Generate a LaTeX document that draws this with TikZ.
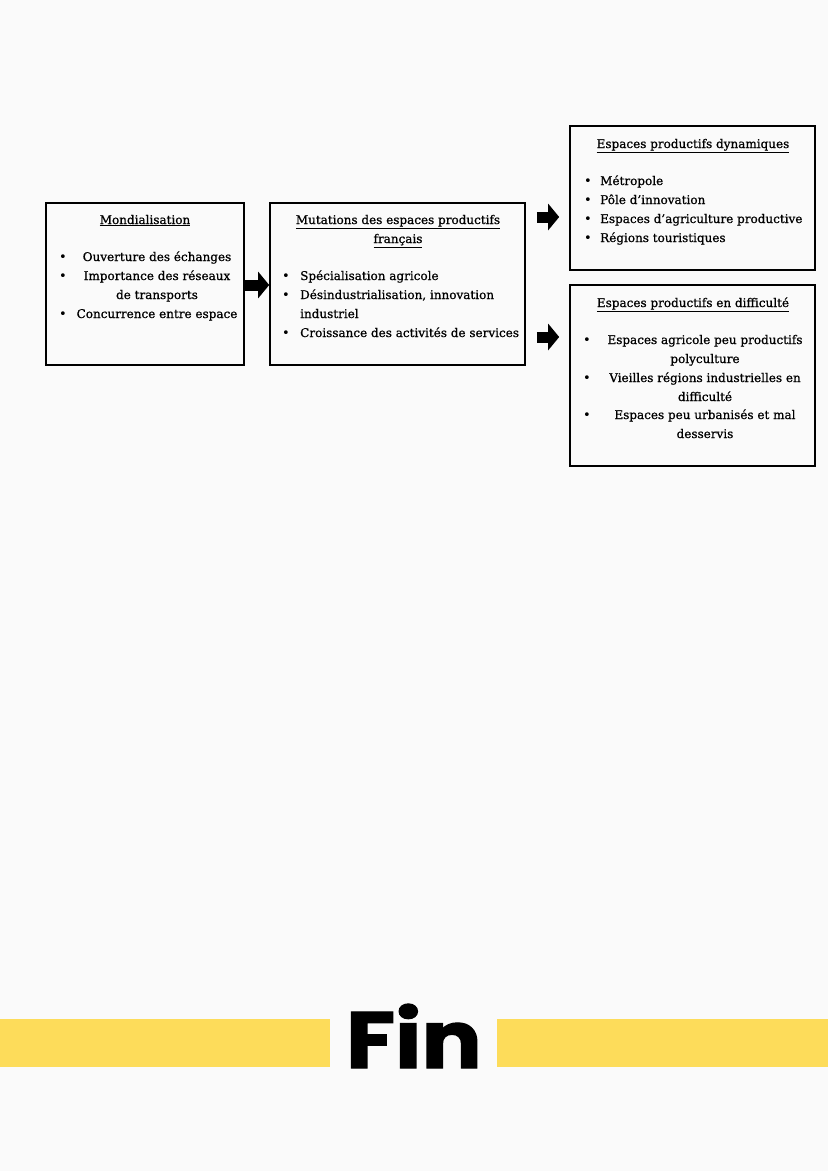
\documentclass[tikz,border=0pt]{standalone}
\usepackage{fontspec}
\setmainfont{DejaVu Serif}[FakeBold=0.8]
\newfontfamily\finfont{Poppins}[FakeBold=1.5]
\newfontfamily\bulfont{DejaVu Sans}
\usetikzlibrary{arrows.meta}
\definecolor{bg}{HTML}{FAFAFA}
\definecolor{bar}{HTML}{FDDC5A}
\tikzset{
  box/.style={draw=black, line width=1.6pt, fill=none, inner sep=0pt},
  txt/.style={inner sep=0pt, anchor=base, font=\fontsize{12pt}{13pt}\selectfont, text=black},
  txtl/.style={txt, anchor=base west},
  ttl/.style={txt},
  bul/.style={inner sep=0pt, anchor=base, font=\bulfont\fontsize{13pt}{13pt}\selectfont},
  blockarrow/.style={line width=11pt, -{Triangle[length=11pt,width=26pt]}},
}
\begin{document}
\begin{tikzpicture}[x=1pt,y=-1pt]
\fill[bg] (0,0) rectangle (828,1171);
\useasboundingbox (0,0) rectangle (828,1171);

% boxes
\node[box, minimum width=198pt, minimum height=162pt] (mond) at (145,284) {};
\node[box, minimum width=255pt, minimum height=162pt] (mut) at (397.5,284) {};
\node[box, minimum width=245pt, minimum height=144pt] (dyn) at (692.5,198) {};
\node[box, minimum width=245pt, minimum height=181pt] (dif) at (692.5,375.5) {};

% Mondialisation
\node[ttl] (t1) at (145,224) {\underline{Mondialisation}};
\node[bul] (b11) at (63,261) {•};
\node[bul] (b12) at (63,280) {•};
\node[bul] (b13) at (63,318) {•};
\node[txt] (m1) at (157,261) {Ouverture des échanges};
\node[txt] (m2) at (157,280) {Importance des réseaux};
\node[txt] (m3) at (157,299) {de transports};
\node[txt] (m4) at (157,318) {Concurrence entre espace};

% Mutations
\node[ttl] (t2a) at (398,224) {\underline{Mutations des espaces productifs}};
\node[ttl] (t2b) at (398,243) {\underline{français}};
\node[bul] (b21) at (286,280) {•};
\node[bul] (b22) at (286,299) {•};
\node[bul] (b23) at (286,337) {•};
\node[txtl] (u1) at (300,280) {Spécialisation agricole};
\node[txtl] (u2) at (300,299) {Désindustrialisation, innovation};
\node[txtl] (u3) at (300,318) {industriel};
\node[txtl] (u4) at (300,337) {Croissance des activités de services};

% Dynamiques
\node[ttl] (t3) at (693,148) {\underline{Espaces productifs dynamiques}};
\node[bul] (b31) at (588,185) {•};
\node[bul] (b32) at (588,204) {•};
\node[bul] (b33) at (588,223) {•};
\node[bul] (b34) at (588,242) {•};
\node[txtl] (d1) at (600,185) {Métropole};
\node[txtl] (d2) at (600,204) {Pôle d’innovation};
\node[txtl] (d3) at (600,223) {Espaces d’agriculture productive};
\node[txtl] (d4) at (600,242) {Régions touristiques};

% Difficulte
\node[ttl] (t4) at (693,307) {\underline{Espaces productifs en difficulté}};
\node[bul] (b41) at (587,344) {•};
\node[bul] (b42) at (587,382) {•};
\node[bul] (b43) at (587,419) {•};
\node[txt] (f1) at (705,344) {Espaces agricole peu productifs};
\node[txt] (f2) at (705,363) {polyculture};
\node[txt] (f3) at (705,382) {Vieilles régions industrielles en};
\node[txt] (f4) at (705,401) {difficulté};
\node[txt] (f5) at (705,419) {Espaces peu urbanisés et mal};
\node[txt] (f6) at (705,438) {desservis};

% arrows
\draw[blockarrow] (mond.east |- 0,285) -- (mut.west |- 0,285);
\draw[blockarrow, shorten <=11pt, shorten >=10pt] (mut.east |- 0,217) -- (dyn.west |- 0,217);
\draw[blockarrow, shorten <=11pt, shorten >=10pt] (mut.east |- 0,337) -- (dif.west |- 0,337);

% Fin
\fill[bar] (0,1019) rectangle (330,1067);
\fill[bar] (497,1019) rectangle (828,1067);
\node[inner sep=0pt, anchor=base, xscale=1.12, font=\finfont\bfseries\fontsize{80pt}{80pt}\selectfont] (fin) at (414,1068) {Fin};
\end{tikzpicture}
\end{document}
